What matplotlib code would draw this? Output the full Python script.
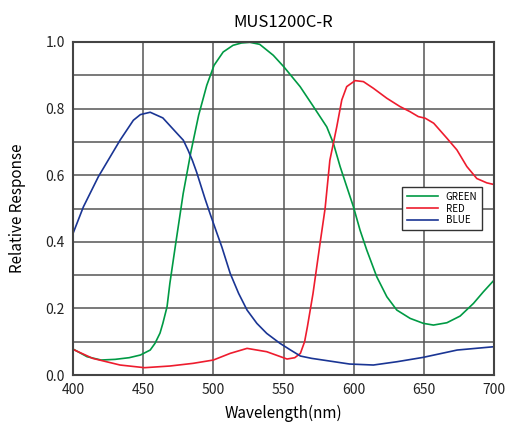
import numpy as np
import matplotlib.pyplot as plt
from matplotlib.ticker import MultipleLocator

plt.rcParams['font.family'] = ['Noto Sans CJK JP', 'DejaVu Sans']

green_x = [400, 410, 420, 430, 440, 448, 455, 458.4, 462, 464, 467, 469, 473, 478.5,
           484, 489.5, 495.3, 500.5, 507, 514, 520, 526, 533, 542.7, 550.3, 561.8,
           571.3, 580.8, 585.5, 590.3, 595, 599.8, 604.5, 609.3, 616.4, 623.6, 630.7,
           640.2, 649.7, 656.8, 666.4, 675.8, 685.3, 692.4, 700]
green_y = [0.078, 0.055, 0.045, 0.047, 0.052, 0.06, 0.075, 0.095, 0.126, 0.155, 0.205,
           0.275, 0.39, 0.545, 0.67, 0.78, 0.87, 0.93, 0.97, 0.99, 0.997, 0.999, 0.993,
           0.96, 0.925, 0.866, 0.806, 0.745, 0.696, 0.626, 0.566, 0.505, 0.435, 0.375,
           0.295, 0.235, 0.195, 0.17, 0.155, 0.15, 0.157, 0.177, 0.215, 0.25, 0.285]

red_x = [400, 414, 433.5, 451, 469, 485.5, 500, 512, 524, 538, 552.5, 558, 562, 565,
         567, 571, 576, 579.6, 583, 587.9, 591.5, 595, 601, 606.9, 614, 623.6, 633,
         640, 646, 651, 657, 666.4, 673.5, 680.6, 687.7, 694.8, 700]
red_y = [0.077, 0.05, 0.03, 0.022, 0.027, 0.035, 0.045, 0.065, 0.08, 0.07, 0.048,
         0.052, 0.065, 0.1, 0.145, 0.245, 0.395, 0.5, 0.645, 0.745, 0.826, 0.866, 0.884,
         0.881, 0.861, 0.831, 0.806, 0.791, 0.776, 0.771, 0.756, 0.711, 0.676, 0.626,
         0.59, 0.577, 0.572]

blue_x = [400, 407.4, 418, 433.5, 443, 448, 455, 464, 474, 478.6, 482, 485, 488, 491,
          494, 497.6, 502.6, 506, 512, 518, 524, 531, 538, 547.5, 555, 562, 570, 578,
          597, 614, 631, 649.5, 673.7, 700]
blue_y = [0.425, 0.505, 0.595, 0.705, 0.765, 0.782, 0.789, 0.772, 0.726, 0.705, 0.675,
          0.645, 0.61, 0.57, 0.53, 0.485, 0.425, 0.385, 0.305, 0.245, 0.195, 0.155,
          0.125, 0.095, 0.075, 0.057, 0.05, 0.045, 0.033, 0.03, 0.04, 0.053, 0.075, 0.085]

fig = plt.figure(figsize=(5.12, 4.28), dpi=100)
ax = fig.add_axes([0.1426, 0.1238, 0.8224, 0.7781])

ax.plot(green_x, green_y, color='#009a44', lw=1.2, label='GREEN')
ax.plot(red_x, red_y, color='#ee1c2e', lw=1.2, label='RED')
ax.plot(blue_x, blue_y, color='#1a3594', lw=1.2, label='BLUE')

ax.set_xlim(400, 700)
ax.set_ylim(0, 1.0)
ax.xaxis.set_major_locator(MultipleLocator(50))
ax.yaxis.set_major_locator(MultipleLocator(0.2))
ax.yaxis.set_minor_locator(MultipleLocator(0.1))
ax.grid(which='both', color='#555555', lw=1.1)
ax.tick_params(which='both', length=0, labelsize=10, pad=6, colors='#222222')

for s in ax.spines.values():
    s.set_color('#444444')
    s.set_linewidth(1.5)

ax.set_title('MUS1200C-R', fontsize=12, pad=11)
ax.set_xlabel('Wavelength(nm)', fontsize=11, labelpad=5)
ax.set_ylabel('Relative Response', fontsize=11, labelpad=14)

leg = ax.legend(loc='upper right', bbox_to_anchor=(0.983, 0.58), fontsize=7,
                fancybox=False, framealpha=1, edgecolor='#333333',
                handlelength=3.2, borderpad=0.5, labelspacing=0.2)
leg.get_frame().set_linewidth(1.0)

fig.savefig('out.png', dpi=100)
